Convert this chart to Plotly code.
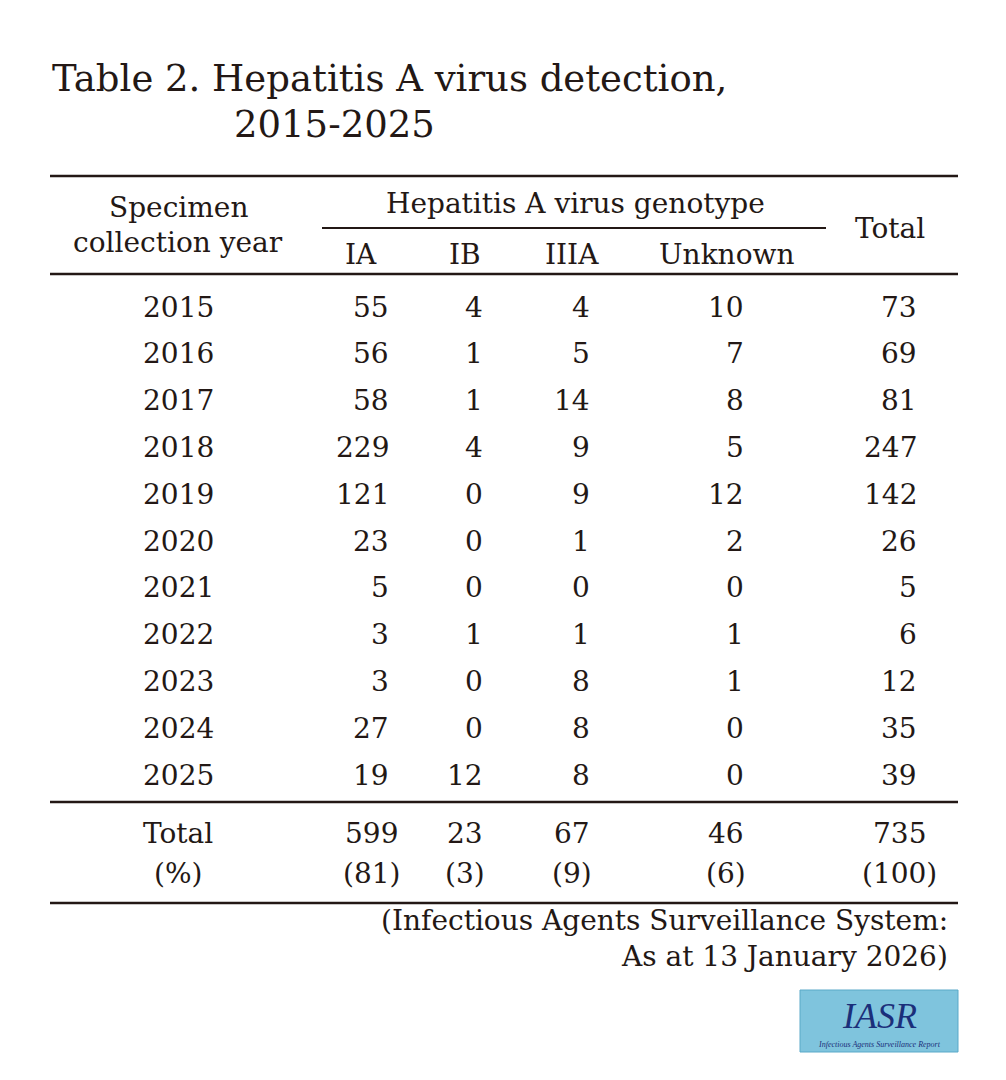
import plotly.graph_objects as go

years = ["2015", "2016", "2017", "2018", "2019", "2020", "2021", "2022", "2023", "2024", "2025"]
ia = [55, 56, 58, 229, 121, 23, 5, 3, 3, 27, 19]
ib = [4, 1, 1, 4, 0, 0, 0, 1, 0, 0, 12]
iiia = [4, 5, 14, 9, 9, 1, 0, 1, 8, 8, 8]
unknown = [10, 7, 8, 5, 12, 2, 0, 1, 1, 0, 0]
total = [73, 69, 81, 247, 142, 26, 5, 6, 12, 35, 39]
sum_row = [599, 23, 67, 46, 735]
pct_row = [81, 3, 9, 6, 100]

FONT = "DejaVu Serif"
INK = "#231815"
fig = go.Figure()

def txt(x, y, s, size=28, anchor="center", **kw):
    fig.add_annotation(x=x, y=y, text=s, showarrow=False, xanchor=anchor,
                       yanchor="middle", font=dict(family=FONT, size=size, color=INK), **kw)

def rule(x0, x1, y, w=2.5):
    fig.add_shape(type="line", x0=x0, x1=x1, y0=y, y1=y, line=dict(color=INK, width=w))

txt(50, 78, "Table 2. Hepatitis A virus detection,", size=37, anchor="left")
txt(232, 124, "2015-2025", size=37, anchor="left")

rule(50, 958, 176)
rule(322, 826, 228, 2)
rule(50, 958, 274)
rule(50, 958, 802)
rule(50, 958, 903)

txt(178, 207, "Specimen")
txt(178, 242, "collection year")
txt(575, 203, "Hepatitis A virus genotype")
txt(890, 228, "Total")
for x, s in zip([361, 465, 572, 727], ["IA", "IB", "IIIA", "Unknown"]):
    txt(x, 254, s)

right_edges = [391, 485, 592, 746, 919]
for i, yr in enumerate(years):
    y = 307 + i * 46.8
    txt(178, y, yr)
    for xr, col in zip(right_edges, [ia, ib, iiia, unknown, total]):
        txt(xr, y, str(col[i]), anchor="right")

txt(178, 833, "Total")
txt(178, 873, "(%)")
for xr, v, p in zip(right_edges, sum_row, pct_row):
    cx = xr - 20
    txt(cx, 833, str(v))
    txt(cx, 873, "(" + str(p) + ")")

txt(950, 920, "(Infectious Agents Surveillance System:", anchor="right")
txt(950, 956, "As at 13 January 2026)", anchor="right")

fig.add_shape(type="rect", x0=800, x1=958, y0=990, y1=1052,
              fillcolor="#7fc4dd", line=dict(color="#5aa9c8", width=1))
fig.add_annotation(x=879, y=1016, text="<i>IASR</i>", showarrow=False,
                   font=dict(family="Liberation Serif", size=36, color="#1b2f7a"))
fig.add_annotation(x=879, y=1044, text="<i>Infectious Agents Surveillance Report</i>", showarrow=False,
                   font=dict(family="Liberation Serif", size=8, color="#1b2f7a"))

fig.update_layout(width=1006, height=1080, margin=dict(l=0, r=0, t=0, b=0),
                  paper_bgcolor="white", plot_bgcolor="white", showlegend=False)
fig.update_xaxes(range=[8, 1014], visible=False, fixedrange=True)
fig.update_yaxes(range=[1088, 8], visible=False, fixedrange=True)
fig.write_html("out.html")
